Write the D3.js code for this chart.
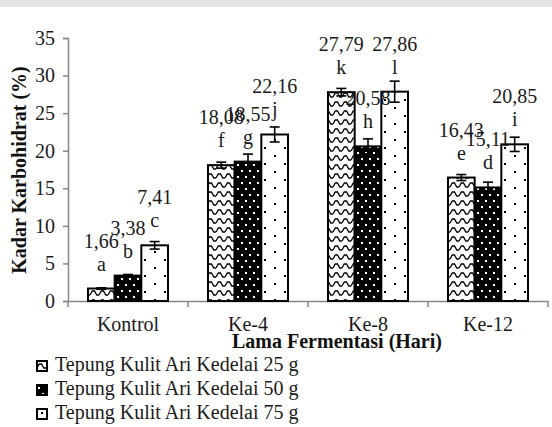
<!DOCTYPE html>
<html><head><script src="https://cdn.jsdelivr.net/npm/d3@7"></script>
<style>
  svg text { font-family: "Liberation Serif", "Times New Roman", Times !important; }
</style>
</head>
<body style="margin:0">
<script>
var categories = ["Kontrol", "Ke-4", "Ke-8", "Ke-12"];
var series = ["Tepung Kulit Ari Kedelai 25 g", "Tepung Kulit Ari Kedelai 50 g", "Tepung Kulit Ari Kedelai 75 g"];
var values = [
  [1.66, 18.08, 27.79, 16.43],
  [3.38, 18.55, 20.58, 15.11],
  [7.41, 22.16, 27.86, 20.85]
];
var errors = [
  [0.1, 0.4, 0.5, 0.4],
  [0.15, 1.0, 1.0, 0.7],
  [0.5, 1.0, 1.4, 0.95]
];
var letters = [
  ["a", "f", "k", "e"],
  ["b", "g", "h", "d"],
  ["c", "j", "l", "i"]
];
var yTicks = [0, 5, 10, 15, 20, 25, 30, 35];

var w = 552, h = 427;
var font = "Liberation Serif";
var svg = d3.select("body").append("svg").attr("width", w).attr("height", h)
  .attr("font-family", font);

// faint band at the top of the scan
svg.append("rect").attr("x", 0).attr("y", 0).attr("width", w).attr("height", 7).attr("fill", "#e4e4e4");

var defs = svg.append("defs");
// zigzag pattern
var p1 = defs.append("pattern").attr("id", "pat0").attr("patternUnits", "userSpaceOnUse")
  .attr("width", 9).attr("height", 9);
p1.append("rect").attr("width", 9).attr("height", 9).attr("fill", "#fff");
p1.append("path").attr("d", "M0,7 L2.3,3 L4.5,3 L6.8,7 L9,7").attr("fill", "none")
  .attr("stroke", "#000").attr("stroke-width", 1.3);
// black with white dots
var p2 = defs.append("pattern").attr("id", "pat1").attr("patternUnits", "userSpaceOnUse")
  .attr("width", 8).attr("height", 12);
p2.append("rect").attr("width", 8).attr("height", 12).attr("fill", "#000");
p2.append("rect").attr("x", 1).attr("y", 2).attr("width", 2).attr("height", 2).attr("fill", "#fff");
p2.append("rect").attr("x", 5).attr("y", 8).attr("width", 2).attr("height", 2).attr("fill", "#fff");
// white with sparse dots
var p3 = defs.append("pattern").attr("id", "pat2").attr("patternUnits", "userSpaceOnUse")
  .attr("width", 20).attr("height", 16);
p3.append("rect").attr("width", 20).attr("height", 16).attr("fill", "#fff");
p3.append("rect").attr("x", 4).attr("y", 3).attr("width", 2).attr("height", 2).attr("fill", "#000");
p3.append("rect").attr("x", 14).attr("y", 11).attr("width", 2).attr("height", 2).attr("fill", "#000");

var x0 = d3.scaleBand().domain(categories).range([68, 548]);
var x1 = d3.scaleBand().domain(d3.range(series.length)).range([20, x0.bandwidth() - 20]);
var y = d3.scaleLinear().domain([0, 35]).range([301, 38]);

// y axis
var gy = svg.append("g").attr("transform", "translate(68,0)")
  .call(d3.axisLeft(y).tickValues(yTicks).tickSize(5).tickPadding(8));
gy.attr("font-family", font).attr("font-size", 20);
gy.select(".domain").attr("stroke", "#888").attr("stroke-width", 1.5);
gy.selectAll(".tick line").attr("stroke", "#888").attr("stroke-width", 1.5);
gy.selectAll(".tick text").attr("fill", "#1a1a1a");

// x axis
var gx = svg.append("g").attr("transform", "translate(0,301)")
  .call(d3.axisBottom(x0).tickSize(0).tickPadding(16));
gx.attr("font-family", font).attr("font-size", 20);
gx.select(".domain").attr("stroke", "#888").attr("stroke-width", 1.5);
gx.selectAll(".tick text").attr("fill", "#1a1a1a");
var bounds = categories.map(function(c) { return x0(c); }).concat([x0.range()[1]]);
svg.append("g").selectAll("line").data(bounds).enter().append("line")
  .attr("x1", function(d) { return d; }).attr("x2", function(d) { return d; })
  .attr("y1", 301).attr("y2", 307).attr("stroke", "#888").attr("stroke-width", 1.5);

// bars
series.forEach(function(s, si) {
  svg.append("g").selectAll("rect").data(values[si]).enter().append("rect")
    .attr("x", function(d, i) { return x0(categories[i]) + x1(si); })
    .attr("y", function(d) { return y(d); })
    .attr("width", x1.bandwidth())
    .attr("height", function(d) { return y(0) - y(d); })
    .attr("fill", "url(#pat" + si + ")")
    .attr("stroke", "#000").attr("stroke-width", 2);
});

// error bars and labels
series.forEach(function(s, si) {
  values[si].forEach(function(v, i) {
    var cx = x0(categories[i]) + x1(si) + x1.bandwidth() / 2;
    var e = errors[si][i];
    var g = svg.append("g").attr("stroke", "#000").attr("stroke-width", 1.6);
    g.append("line").attr("x1", cx).attr("x2", cx).attr("y1", y(v - e)).attr("y2", y(v + e));
    g.append("line").attr("x1", cx - 5).attr("x2", cx + 5).attr("y1", y(v + e)).attr("y2", y(v + e));
    g.append("line").attr("x1", cx - 5).attr("x2", cx + 5).attr("y1", y(v - e)).attr("y2", y(v - e));
    svg.append("text").attr("x", cx).attr("y", y(v) - 18).attr("text-anchor", "middle")
      .attr("font-family", font).attr("font-size", 20).attr("fill", "#1a1a1a").text(letters[si][i]);
    svg.append("text").attr("x", cx).attr("y", y(v) - 41).attr("text-anchor", "middle")
      .attr("font-family", font).attr("font-size", 20).attr("fill", "#1a1a1a")
      .text(v.toFixed(2).replace(".", ","));
  });
});

// axis titles
svg.append("text").attr("transform", "translate(26,170) rotate(-90)")
  .attr("text-anchor", "middle").attr("font-family", font).attr("font-size", 20)
  .attr("font-weight", "bold").attr("fill", "#111").text("Kadar Karbohidrat (%)");
svg.append("text").attr("x", 232).attr("y", 348)
  .attr("font-family", font).attr("font-size", 20).attr("font-weight", "bold")
  .attr("fill", "#111").text("Lama Fermentasi (Hari)");

// legend
var lg = svg.append("g").selectAll("g").data(series).enter().append("g")
  .attr("transform", function(d, i) { return "translate(37," + (361 + i * 24) + ")"; });
lg.append("rect").attr("width", 10).attr("height", 10)
  .attr("fill", function(d, i) { return "url(#pat" + i + ")"; })
  .attr("stroke", "#000").attr("stroke-width", 2);
lg.append("text").attr("x", 18).attr("y", 10).attr("font-family", font)
  .attr("font-size", 20).attr("fill", "#1a1a1a")
  .text(function(d) { return d; });
</script>
</body></html>
